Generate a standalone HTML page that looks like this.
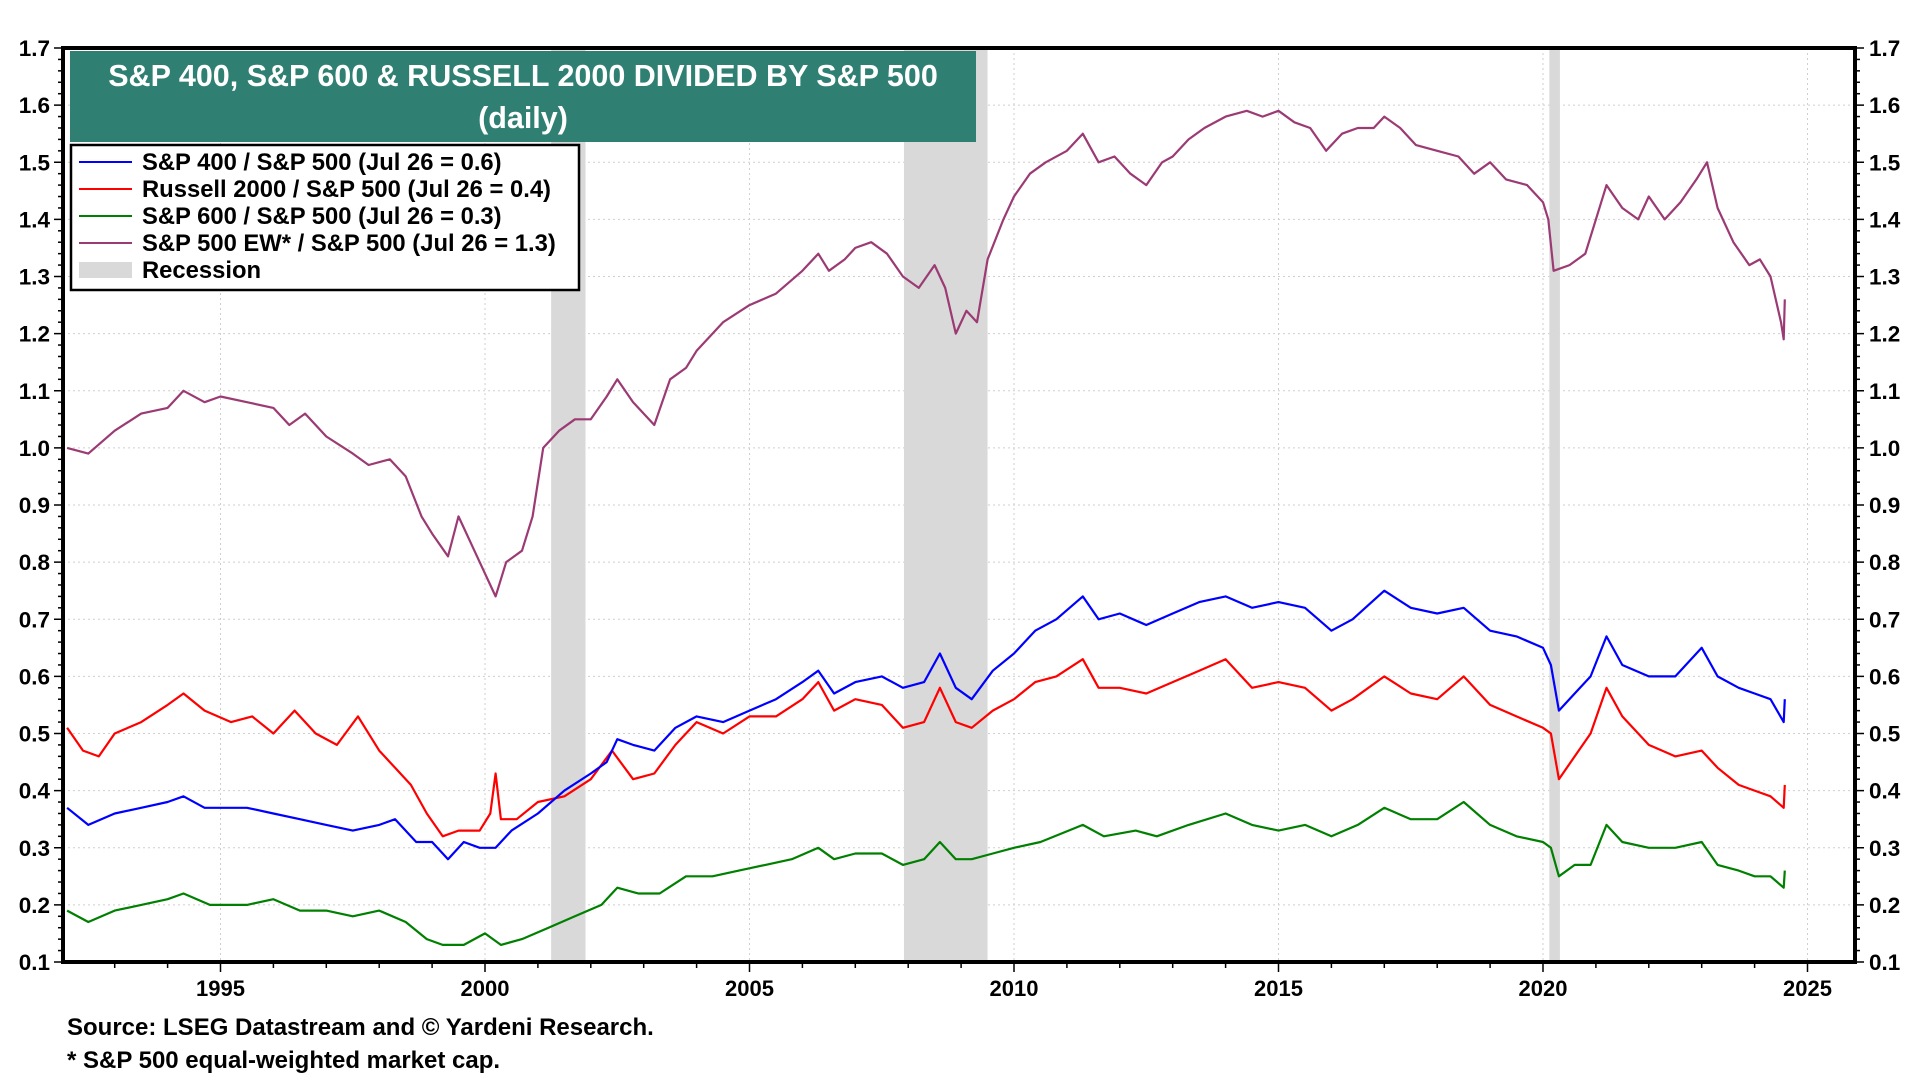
<!DOCTYPE html>
<html><head><meta charset="utf-8">
<style>
html,body{margin:0;padding:0;background:#fff;}
body{width:1920px;height:1080px;overflow:hidden;font-family:"Liberation Sans",Arial,sans-serif;}
svg text{font-family:"Liberation Sans",Arial,sans-serif;font-weight:bold;}
</style></head>
<body>
<svg id="chart" width="1920" height="1080" viewBox="0 0 1920 1080" xmlns="http://www.w3.org/2000/svg">
<g id="grid"></g>
<g id="rec"></g>
<g id="series"></g>
<g id="axes"></g>
<g>
<rect x="70" y="51" width="906" height="91" fill="#2f7f72"/>
<text x="523" y="86" text-anchor="middle" font-size="30.5" fill="#fff">S&amp;P 400, S&amp;P 600 &amp; RUSSELL 2000 DIVIDED BY S&amp;P 500</text>
<text x="523" y="128" text-anchor="middle" font-size="30.5" fill="#fff">(daily)</text>
</g>
<g id="legend">
<rect x="71" y="145" width="508" height="145" fill="#fff" stroke="#000" stroke-width="2.5"/>
</g>
<text x="67" y="1035" font-size="24" fill="#000">Source: LSEG Datastream and © Yardeni Research.</text>
<text x="67" y="1068" font-size="24" fill="#000">* S&amp;P 500 equal-weighted market cap.</text>
</svg>
<script>
const yTicks=[0.1,0.2,0.3,0.4,0.5,0.6,0.7,0.8,0.9,1.0,1.1,1.2,1.3,1.4,1.5,1.6,1.7];
const yearTicks=[1995,2000,2005,2010,2015,2020,2025];
const recessionStarts=[2001.25,2007.92,2020.12];
const recessionEnds=[2001.9,2009.5,2020.32];

const ewYears=[1992.1,1992.5,1993.0,1993.5,1994.0,1994.3,1994.7,1995.0,1995.5,1996.0,1996.3,1996.6,1997.0,1997.5,1997.8,1998.2,1998.5,1998.8,1999.0,1999.3,1999.5,1999.8,2000.1,2000.2,2000.4,2000.7,2000.9,2001.1,2001.4,2001.7,2002.0,2002.3,2002.5,2002.8,2003.0,2003.2,2003.5,2003.8,2004.0,2004.5,2005.0,2005.5,2006.0,2006.3,2006.5,2006.8,2007.0,2007.3,2007.6,2007.9,2008.2,2008.5,2008.7,2008.9,2009.1,2009.3,2009.5,2009.8,2010.0,2010.3,2010.6,2011.0,2011.3,2011.6,2011.9,2012.2,2012.5,2012.8,2013.0,2013.3,2013.6,2014.0,2014.4,2014.7,2015.0,2015.3,2015.6,2015.9,2016.2,2016.5,2016.8,2017.0,2017.3,2017.6,2018.0,2018.4,2018.7,2019.0,2019.3,2019.7,2020.0,2020.1,2020.2,2020.5,2020.8,2021.0,2021.2,2021.5,2021.8,2022.0,2022.3,2022.6,2022.9,2023.1,2023.3,2023.6,2023.9,2024.1,2024.3,2024.5,2024.55,2024.57];
const ewValues=[1.00,0.99,1.03,1.06,1.07,1.10,1.08,1.09,1.08,1.07,1.04,1.06,1.02,0.99,0.97,0.98,0.95,0.88,0.85,0.81,0.88,0.82,0.76,0.74,0.80,0.82,0.88,1.00,1.03,1.05,1.05,1.09,1.12,1.08,1.06,1.04,1.12,1.14,1.17,1.22,1.25,1.27,1.31,1.34,1.31,1.33,1.35,1.36,1.34,1.30,1.28,1.32,1.28,1.20,1.24,1.22,1.33,1.40,1.44,1.48,1.50,1.52,1.55,1.50,1.51,1.48,1.46,1.50,1.51,1.54,1.56,1.58,1.59,1.58,1.59,1.57,1.56,1.52,1.55,1.56,1.56,1.58,1.56,1.53,1.52,1.51,1.48,1.50,1.47,1.46,1.43,1.40,1.31,1.32,1.34,1.40,1.46,1.42,1.40,1.44,1.40,1.43,1.47,1.50,1.42,1.36,1.32,1.33,1.30,1.22,1.19,1.26];

const midYears=[1992.1,1992.5,1993.0,1993.5,1994.0,1994.3,1994.7,1995.5,1996.0,1996.5,1997.0,1997.5,1998.0,1998.3,1998.7,1999.0,1999.3,1999.6,1999.9,2000.2,2000.5,2001.0,2001.5,2002.0,2002.3,2002.5,2002.8,2003.2,2003.6,2004.0,2004.5,2005.0,2005.5,2006.0,2006.3,2006.6,2007.0,2007.5,2007.9,2008.3,2008.6,2008.9,2009.2,2009.6,2010.0,2010.4,2010.8,2011.3,2011.6,2012.0,2012.5,2013.0,2013.5,2014.0,2014.5,2015.0,2015.5,2016.0,2016.4,2017.0,2017.5,2018.0,2018.5,2019.0,2019.5,2020.0,2020.15,2020.3,2020.6,2020.9,2021.2,2021.5,2022.0,2022.5,2023.0,2023.3,2023.7,2024.0,2024.3,2024.55,2024.57];
const midValues=[0.37,0.34,0.36,0.37,0.38,0.39,0.37,0.37,0.36,0.35,0.34,0.33,0.34,0.35,0.31,0.31,0.28,0.31,0.30,0.30,0.33,0.36,0.40,0.43,0.45,0.49,0.48,0.47,0.51,0.53,0.52,0.54,0.56,0.59,0.61,0.57,0.59,0.60,0.58,0.59,0.64,0.58,0.56,0.61,0.64,0.68,0.70,0.74,0.70,0.71,0.69,0.71,0.73,0.74,0.72,0.73,0.72,0.68,0.70,0.75,0.72,0.71,0.72,0.68,0.67,0.65,0.62,0.54,0.57,0.60,0.67,0.62,0.60,0.60,0.65,0.60,0.58,0.57,0.56,0.52,0.56];

const rutYears=[1992.1,1992.4,1992.7,1993.0,1993.5,1994.0,1994.3,1994.7,1995.2,1995.6,1996.0,1996.4,1996.8,1997.2,1997.6,1998.0,1998.3,1998.6,1998.9,1999.2,1999.5,1999.9,2000.1,2000.2,2000.3,2000.6,2001.0,2001.5,2002.0,2002.4,2002.8,2003.2,2003.6,2004.0,2004.5,2005.0,2005.5,2006.0,2006.3,2006.6,2007.0,2007.5,2007.9,2008.3,2008.6,2008.9,2009.2,2009.6,2010.0,2010.4,2010.8,2011.3,2011.6,2012.0,2012.5,2013.0,2013.5,2014.0,2014.5,2015.0,2015.5,2016.0,2016.4,2017.0,2017.5,2018.0,2018.5,2019.0,2019.5,2020.0,2020.15,2020.3,2020.6,2020.9,2021.2,2021.5,2022.0,2022.5,2023.0,2023.3,2023.7,2024.0,2024.3,2024.55,2024.57];
const rutValues=[0.51,0.47,0.46,0.50,0.52,0.55,0.57,0.54,0.52,0.53,0.50,0.54,0.50,0.48,0.53,0.47,0.44,0.41,0.36,0.32,0.33,0.33,0.36,0.43,0.35,0.35,0.38,0.39,0.42,0.47,0.42,0.43,0.48,0.52,0.50,0.53,0.53,0.56,0.59,0.54,0.56,0.55,0.51,0.52,0.58,0.52,0.51,0.54,0.56,0.59,0.60,0.63,0.58,0.58,0.57,0.59,0.61,0.63,0.58,0.59,0.58,0.54,0.56,0.60,0.57,0.56,0.60,0.55,0.53,0.51,0.50,0.42,0.46,0.50,0.58,0.53,0.48,0.46,0.47,0.44,0.41,0.40,0.39,0.37,0.41];

const smlYears=[1992.1,1992.5,1993.0,1993.5,1994.0,1994.3,1994.8,1995.5,1996.0,1996.5,1997.0,1997.5,1998.0,1998.5,1998.9,1999.2,1999.6,2000.0,2000.3,2000.7,2001.2,2001.7,2002.2,2002.5,2002.9,2003.3,2003.8,2004.3,2004.8,2005.3,2005.8,2006.3,2006.6,2007.0,2007.5,2007.9,2008.3,2008.6,2008.9,2009.2,2009.6,2010.0,2010.5,2011.3,2011.7,2012.3,2012.7,2013.3,2014.0,2014.5,2015.0,2015.5,2016.0,2016.5,2017.0,2017.5,2018.0,2018.5,2019.0,2019.5,2020.0,2020.15,2020.3,2020.6,2020.9,2021.2,2021.5,2022.0,2022.5,2023.0,2023.3,2023.7,2024.0,2024.3,2024.55,2024.57];
const smlValues=[0.19,0.17,0.19,0.20,0.21,0.22,0.20,0.20,0.21,0.19,0.19,0.18,0.19,0.17,0.14,0.13,0.13,0.15,0.13,0.14,0.16,0.18,0.20,0.23,0.22,0.22,0.25,0.25,0.26,0.27,0.28,0.30,0.28,0.29,0.29,0.27,0.28,0.31,0.28,0.28,0.29,0.30,0.31,0.34,0.32,0.33,0.32,0.34,0.36,0.34,0.33,0.34,0.32,0.34,0.37,0.35,0.35,0.38,0.34,0.32,0.31,0.30,0.25,0.27,0.27,0.34,0.31,0.30,0.30,0.31,0.27,0.26,0.25,0.25,0.23,0.26];

const legendLabels=["S&P 400 / S&P 500 (Jul 26 = 0.6)","Russell 2000 / S&P 500 (Jul 26 = 0.4)","S&P 600 / S&P 500 (Jul 26 = 0.3)","S&P 500 EW* / S&P 500 (Jul 26 = 1.3)","Recession"];

const NS="http://www.w3.org/2000/svg";
const L=63,R=1855,T=48,B=962;
const x=yr=>1543+(yr-2020)*52.9;
const y=v=>B-(v-0.1)/1.6*(B-T);
function mk(tag,attrs,parent){const e=document.createElementNS(NS,tag);for(const k in attrs)e.setAttribute(k,attrs[k]);parent.appendChild(e);return e;}
const grid=document.getElementById('grid'),rec=document.getElementById('rec'),ser=document.getElementById('series'),axes=document.getElementById('axes'),leg=document.getElementById('legend');

yTicks.forEach(v=>{
  const g=mk('line',{x1:L,x2:R,y1:y(v),y2:y(v),stroke:'#cfcfcf','stroke-width':1,'stroke-dasharray':'2,3'},grid);
  
  
  const t1=mk('text',{x:50,y:y(v)+8,'text-anchor':'end','font-size':22.5},axes);t1.textContent=v.toFixed(1);
  
  
  const t2=mk('text',{x:1869,y:y(v)+8,'font-size':22.5},axes);t2.textContent=v.toFixed(1);
  
  
});
for(let v=0.1;v<=1.7001;v+=0.02){
  const big=Math.abs(v*10-Math.round(v*10))<1e-6;const len=big?9:5;
  mk('line',{x1:L-len,x2:L,y1:y(v),y2:y(v),stroke:'#000','stroke-width':1.5},axes);
  mk('line',{x1:R,x2:R+len,y1:y(v),y2:y(v),stroke:'#000','stroke-width':1.5},axes);
}
yearTicks.forEach(yr=>{
  const g=mk('line',{x1:x(yr),x2:x(yr),y1:T,y2:B,stroke:'#cfcfcf','stroke-width':1,'stroke-dasharray':'2,3'},grid);
  
  
  const t=mk('text',{x:x(yr),y:996,'text-anchor':'middle','font-size':22},axes);t.textContent=yr;
  
  
});
for(let yr=1993;yr<=2025;yr++){const len=yr%5==0?10:6;mk('line',{x1:x(yr),x2:x(yr),y1:B,y2:B+len,stroke:'#000','stroke-width':1.5},axes);}
recessionStarts.forEach((s,i)=>{
  const r=mk('rect',{x:x(s),y:T,width:x(recessionEnds[i])-x(s),height:B-T,fill:'#d9d9d9'},rec);
  
  
});
function line(xs,vs,color,name){
  const p=mk('polyline',{points:xs.map((yr,i)=>x(yr).toFixed(1)+','+y(vs[i]).toFixed(1)).join(' '),fill:'none',stroke:color,'stroke-width':2.2,'stroke-linejoin':'round'},ser);
  
  
}
line(smlYears,smlValues,'#008000','sp600-line');
line(rutYears,rutValues,'#ff0000','russell2000-line');
line(midYears,midValues,'#0000ff','sp400-line');
line(ewYears,ewValues,'#9b3a73','sp500ew-line');
mk('rect',{x:L,y:T,width:R-L,height:B-T,fill:'none',stroke:'#000','stroke-width':4},axes);

const colors=['#0000ff','#ff0000','#008000','#9b3a73','#d9d9d9'];
legendLabels.forEach((lab,i)=>{
  const yy=162+i*27;
  if(i<4){const l=mk('line',{x1:79,x2:132,y1:yy,y2:yy,stroke:colors[i],'stroke-width':2},leg);
    
    }
  else{const r=mk('rect',{x:79,y:yy-8,width:53,height:16,fill:colors[i]},leg);
    
    }
  const t=mk('text',{x:142,y:yy+8,'font-size':23.8},leg);t.textContent=lab;
  
  
});
</script>
</body></html>
